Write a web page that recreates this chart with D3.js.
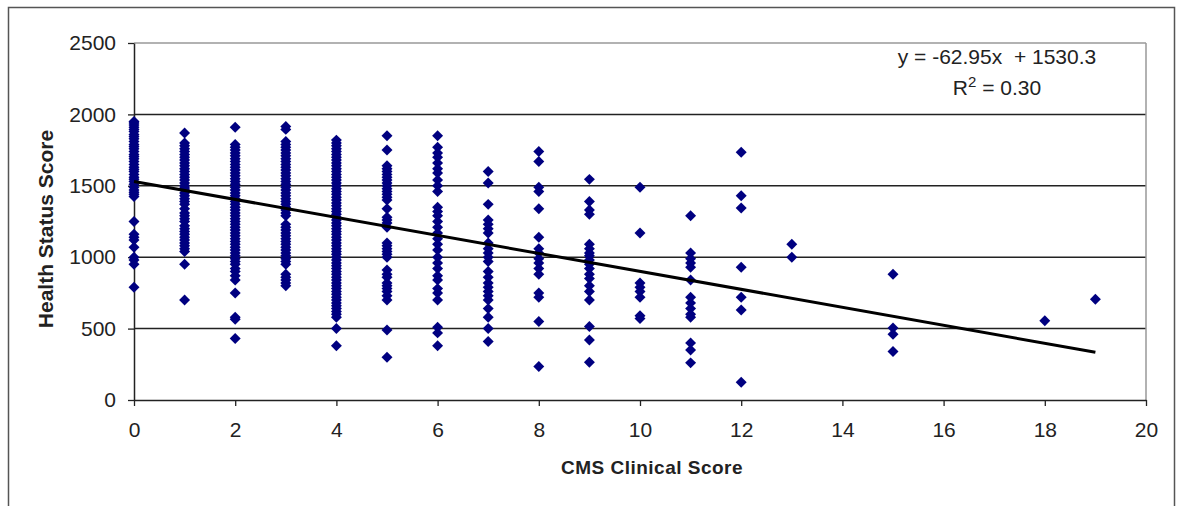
<!DOCTYPE html>
<html>
<head>
<meta charset="utf-8">
<script src="https://cdn.jsdelivr.net/npm/d3@7"></script>
<style>
  body { margin: 0; background: #fff; }
  svg { display: block; font-family: "Liberation Sans", Arial, sans-serif; }
</style>
</head>
<body>
<div id="chart"></div>
<script>
// CMS clinical score (x) for each column of points
const cmsScores = [0, 1, 2, 3, 4, 5, 6, 7, 8, 9, 10, 11, 12, 13, 15, 18, 19];

// health status scores
const healthScores = [
  [1950, 1940, 1925, 1910, 1895, 1880, 1860, 1845, 1830, 1810, 1790, 1775, 1760, 1740, 1720, 1705, 1690, 1670, 1650, 1630, 1615, 1600, 1580, 1560, 1545, 1530, 1510, 1490, 1470, 1455, 1440, 1425, 1250, 1160, 1140, 1120, 1070, 1000, 980, 950, 790],
  [1870, 1800, 1780, 1760, 1740, 1720, 1700, 1680, 1660, 1640, 1620, 1600, 1580, 1560, 1540, 1520, 1500, 1485, 1470, 1450, 1430, 1410, 1390, 1370, 1340, 1310, 1290, 1270, 1250, 1220, 1200, 1180, 1160, 1140, 1120, 1100, 1080, 1060, 1040, 950, 700],
  [1910, 1790, 1770, 1750, 1730, 1710, 1690, 1670, 1650, 1630, 1610, 1590, 1570, 1550, 1530, 1510, 1490, 1470, 1450, 1430, 1410, 1390, 1370, 1350, 1330, 1310, 1290, 1270, 1250, 1230, 1210, 1190, 1170, 1150, 1130, 1110, 1090, 1070, 1050, 1030, 1010, 990, 970, 950, 920, 900, 870, 840, 750, 580, 565, 430],
  [1915, 1895, 1810, 1790, 1770, 1750, 1730, 1710, 1690, 1670, 1650, 1630, 1610, 1590, 1570, 1550, 1530, 1510, 1490, 1470, 1450, 1430, 1410, 1390, 1370, 1350, 1330, 1310, 1290, 1230, 1210, 1190, 1170, 1150, 1130, 1110, 1090, 1070, 1050, 1030, 1010, 990, 970, 950, 880, 860, 840, 820, 800],
  [1820, 1800, 1780, 1760, 1740, 1720, 1700, 1680, 1660, 1640, 1620, 1600, 1580, 1560, 1540, 1520, 1500, 1480, 1460, 1440, 1420, 1400, 1380, 1360, 1340, 1320, 1300, 1280, 1260, 1240, 1220, 1200, 1180, 1160, 1140, 1120, 1100, 1080, 1060, 1040, 1020, 1000, 980, 960, 940, 920, 900, 880, 860, 840, 820, 800, 780, 760, 740, 720, 700, 680, 660, 640, 620, 600, 580, 500, 380],
  [1850, 1750, 1640, 1620, 1600, 1580, 1560, 1540, 1520, 1500, 1480, 1460, 1440, 1420, 1400, 1340, 1280, 1260, 1240, 1210, 1100, 1080, 1060, 1040, 1020, 1000, 910, 880, 860, 820, 800, 780, 760, 730, 700, 490, 300],
  [1850, 1770, 1730, 1700, 1660, 1620, 1590, 1540, 1500, 1460, 1350, 1320, 1290, 1250, 1210, 1170, 1130, 1090, 1050, 1000, 960, 920, 870, 840, 780, 750, 700, 510, 470, 380],
  [1600, 1520, 1370, 1260, 1230, 1200, 1170, 1100, 1060, 1030, 1000, 970, 900, 860, 820, 790, 760, 730, 700, 640, 580, 500, 410],
  [1740, 1670, 1490, 1460, 1340, 1140, 1060, 1030, 990, 960, 920, 880, 750, 720, 550, 235],
  [1545, 1390, 1330, 1300, 1090, 1060, 1030, 1010, 980, 950, 920, 880, 850, 800, 760, 700, 515, 420, 265],
  [1490, 1170, 820, 790, 760, 720, 590, 570],
  [1290, 1030, 990, 960, 930, 840, 720, 680, 640, 600, 580, 400, 350, 260],
  [1735, 1430, 1345, 930, 720, 630, 125],
  [1090, 1000],
  [880, 505, 460, 340],
  [555],
  [705]
];

const xTicks = d3.range(0, 21, 2);
const yTicks = [0, 500, 1000, 1500, 2000, 2500];

// linear trend from the chart
const slope = -62.95, intercept = 1530.3;
const trendX = [0, 19];

const W = 1179, H = 506;
const plot = {left: 134, top: 43, right: 1146, bottom: 400};

const svg = d3.select("#chart").append("svg")
    .attr("width", W)
    .attr("height", H);

// outer chart frame
svg.append("rect")
    .attr("x", 8.5).attr("y", 7.5)
    .attr("width", 1166).attr("height", 520)
    .attr("fill", "#fff")
    .attr("stroke", "#555")
    .attr("stroke-width", 1.5);

const x = d3.scaleLinear().domain([0, 20]).range([plot.left, plot.right]);
const y = d3.scaleLinear().domain([0, 2500]).range([plot.bottom, plot.top]);

// gridlines
svg.append("g")
    .selectAll("line")
    .data(yTicks.filter(d => d > 0))
    .join("line")
    .attr("x1", plot.left).attr("x2", plot.right)
    .attr("y1", d => y(d)).attr("y2", d => y(d))
    .attr("stroke", d => d === 2500 ? "#999" : "#222")
    .attr("stroke-width", 1.5);

// plot area right edge
svg.append("line")
    .attr("x1", plot.right).attr("x2", plot.right)
    .attr("y1", plot.top).attr("y2", plot.bottom)
    .attr("stroke", "#999").attr("stroke-width", 1.5);

const fontSize = 21;

const xAxis = svg.append("g")
    .attr("transform", `translate(0,${plot.bottom})`)
    .call(d3.axisBottom(x).tickValues(xTicks).tickSize(6).tickPadding(16).tickSizeOuter(0));

const yAxis = svg.append("g")
    .attr("transform", `translate(${plot.left},0)`)
    .call(d3.axisLeft(y).tickValues(yTicks).tickFormat(d3.format("d")).tickSize(6).tickPadding(12).tickSizeOuter(0));

[xAxis, yAxis].forEach(a => {
    a.select(".domain").attr("stroke", "#222").attr("stroke-width", 1.5);
    a.selectAll(".tick line").attr("stroke", "#222").attr("stroke-width", 1.3);
    a.selectAll(".tick text")
        .attr("fill", "#222")
        .attr("font-size", fontSize)
        .attr("font-family", "Liberation Sans, Arial, sans-serif");
});

// points
const points = [];
cmsScores.forEach((s, i) => healthScores[i].forEach(v => points.push({s, v})));

const diamond = d3.symbol().type(d3.symbolSquare).size(60);
svg.append("g")
    .selectAll("path")
    .data(points)
    .join("path")
    .attr("d", diamond)
    .attr("transform", d => `translate(${x(d.s)},${y(d.v)}) rotate(45)`)
    .attr("fill", "#000080");

// trend line
svg.append("line")
    .attr("x1", x(trendX[0])).attr("y1", y(intercept + slope * trendX[0]))
    .attr("x2", x(trendX[1])).attr("y2", y(intercept + slope * trendX[1]))
    .attr("stroke", "#000")
    .attr("stroke-width", 3);

// equation label
const eq = svg.append("g").attr("font-size", fontSize).attr("fill", "#222").attr("text-anchor", "middle");
eq.append("text")
    .attr("x", 997).attr("y", 64)
    .attr("xml:space", "preserve")
    .text("y = -62.95x  + 1530.3");
const r2 = eq.append("text").attr("x", 997).attr("y", 95);
r2.append("tspan").text("R");
r2.append("tspan").attr("dy", -8).attr("font-size", 15).text("2");
r2.append("tspan").attr("dy", 8).text(" = 0.30");

// axis titles
svg.append("text")
    .attr("x", 652).attr("y", 474)
    .attr("text-anchor", "middle")
    .attr("font-size", 19)
    .attr("font-weight", "bold")
    .attr("letter-spacing", 0.5)
    .attr("fill", "#222")
    .text("CMS Clinical Score");

svg.append("text")
    .attr("transform", "translate(53,229) rotate(-90)")
    .attr("text-anchor", "middle")
    .attr("font-size", 21)
    .attr("font-weight", "bold")
    .attr("fill", "#222")
    .text("Health Status Score");
</script>
</body>
</html>
